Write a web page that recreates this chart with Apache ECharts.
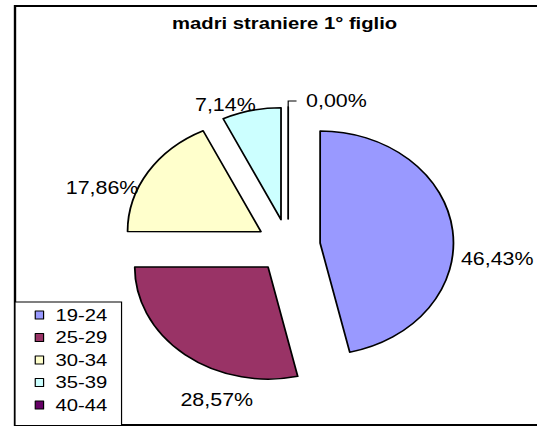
<!DOCTYPE html>
<html><head><meta charset="utf-8">
<script src="https://cdn.jsdelivr.net/npm/echarts@6/dist/echarts.min.js"></script>
<style>
html,body{margin:0;padding:0;background:#fff;overflow:hidden}
#wrap{width:537px;height:426px;overflow:hidden;position:relative;background:#fff}
#c{width:451px;height:426px;transform:scaleX(1.1907);transform-origin:0 0}
</style></head><body>
<div id="wrap"><div id="c"></div></div>
<script>
const chartTitle = 'madri straniere 1° figlio';
const categories = ['19-24', '25-29', '30-34', '35-39', '40-44'];
const percents = [46.43, 28.57, 17.86, 7.14, 0.00];
const colors = ['#9999FF', '#993366', '#FFFFCC', '#CCFFFF', '#660066'];
// label nudges (style only): [dx, dy] in chart units
const labelNudge = [[-11, 29], [73, 40], [9, 19], [17, 0], [3, 0]];

const FONT = '"Liberation Sans", Arial, sans-serif';
const chart = echarts.init(document.getElementById('c'), null, {renderer: 'svg'});

const fmt = p => p.percent.toFixed(2).replace('.', ',') + '%';

chart.setOption({
  animation: false,
  backgroundColor: '#fff',
  title: {
    text: chartTitle, left: 144.5, top: 15, padding: 0,
    textStyle: {fontSize: 17, fontWeight: 'bold', fontFamily: FONT, color: '#000'}
  },
  graphic: [{
    type: 'rect', silent: true, z: 0,
    shape: {x: 12.6, y: 6, width: 600, height: 419},
    style: {fill: null, stroke: '#000', lineWidth: 2}
  }],
  legend: {
    orient: 'vertical', left: 12.6, top: 302,
    data: categories,
    icon: 'rect', itemWidth: 7, itemHeight: 8, itemGap: 5.5,
    padding: [4.5, 12, 12, 16.5],
    borderColor: '#000', borderWidth: 1, backgroundColor: '#fff',
    textStyle: {fontSize: 17, fontFamily: FONT, color: '#000', lineHeight: 17, padding: [0, 0, 0, 5]},
    itemStyle: {borderColor: '#000', borderWidth: 1}
  },
  series: [{
    type: 'pie',
    center: [242, 246], radius: 112,
    startAngle: 89.98, clockwise: true,
    minAngle: 0.01,
    selectedMode: 'multiple', selectedOffset: 27,
    avoidLabelOverlap: false,
    itemStyle: {borderColor: '#000', borderWidth: 1.5},
    select: {itemStyle: {borderColor: '#000', borderWidth: 1.5}},
    emphasis: {disabled: true},
    label: {show: true, position: 'outside', formatter: fmt, fontSize: 18, fontFamily: FONT, color: '#000'},
    labelLine: {show: false, length: 6, length2: 7, lineStyle: {color: '#000', width: 1}},
    labelLayout: p => ({dx: labelNudge[p.dataIndex][0], dy: labelNudge[p.dataIndex][1]}),
    data: categories.map((n, i) => ({
      name: n, value: percents[i], selected: true,
      itemStyle: {color: colors[i]},
      labelLine: {show: percents[i] === 0}
    }))
  }]
});
</script>
</body></html>
